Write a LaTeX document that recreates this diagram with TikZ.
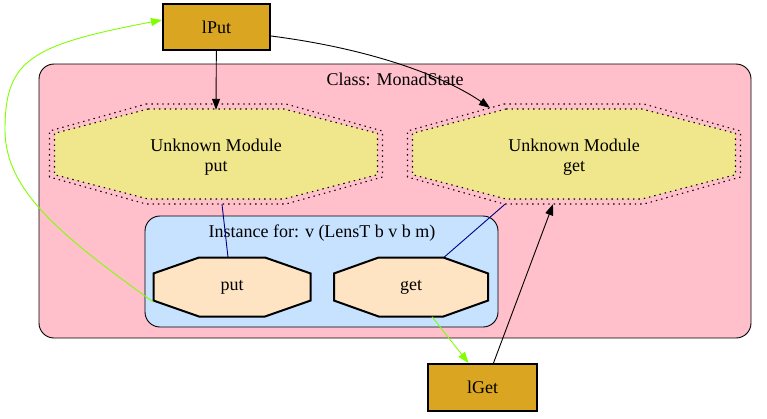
\documentclass[tikz,border=0pt]{standalone}
\usepackage{fontspec}
\setmainfont{Liberation Serif}
\usepackage{xcolor}
\usepackage{tikz}
\usetikzlibrary{arrows.meta,calc}

\definecolor{clspink}{HTML}{FFC0CB}
\definecolor{instblue}{HTML}{C6E2FF}
\definecolor{unkhaki}{HTML}{F0E68C}
\definecolor{fnbisque}{HTML}{FFE4C4}
\definecolor{lensgold}{HTML}{DAA520}
\definecolor{chartgreen}{HTML}{7FFF00}
\definecolor{linknavy}{HTML}{000080}

% octagon round a centre: centre, half width, half height
\newcommand{\octo}[3]{($(#1)+(-0.42*#2,-#3)$) -- ($(#1)+(0.42*#2,-#3)$)
  -- ($(#1)+(#2,-0.46*#3)$) -- ($(#1)+(#2,0.46*#3)$)
  -- ($(#1)+(0.42*#2,#3)$) -- ($(#1)+(-0.42*#2,#3)$)
  -- ($(#1)+(-#2,0.46*#3)$) -- ($(#1)+(-#2,-0.46*#3)$) -- cycle}

\begin{document}
\begin{tikzpicture}
[
x=1pt,y=-1pt,
font=\fontsize{18}{20}\selectfont,
cluster/.style 2 args={draw,fill=#1,rounded corners=15pt,line width=0.9pt,minimum width=#2},
lens/.style={draw,fill=lensgold,line width=2pt,inner sep=0pt,minimum width=107pt,minimum height=46pt},
unkfill/.style={fill=unkhaki,draw,line width=1.1pt,dash pattern=on 1.4pt off 4pt},
unkouter/.style={draw,line width=1.1pt,dash pattern=on 1.4pt off 4pt},
fnfill/.style={fill=fnbisque,draw,line width=2pt,line join=miter},
octtext/.style={align=center,inner sep=0pt},
link/.style={line width=0.9pt,-{Triangle[length=11pt,width=8pt]}},
]
\useasboundingbox (0,0) rectangle (767,418);

%clusters
\node[cluster={clspink}{712pt},minimum height=274pt] (classbox) at (395,201) {};
\node (classlbl) at (395,79) {Class: MonadState};
\node[cluster={instblue}{353pt},minimum height=111pt] (instbox) at (321.5,271.5) {};
\node (instlbl) at (322,233) {Instance for: v (LensT b v b m)};

%octagon shapes
\coordinate (cuput) at (216,154);
\coordinate (cuget) at (574,154);
\coordinate (ciput) at (232,287);
\coordinate (ciget) at (411,287);
\path[unkfill] \octo{cuput}{161.5}{45};
\path[unkouter] \octo{cuput}{166.5}{50};
\path[unkfill] \octo{cuget}{161.5}{45};
\path[unkouter] \octo{cuget}{166.5}{50};
\path[fnfill] \octo{ciput}{78.5}{29.5};
\path[fnfill] \octo{ciget}{77}{29.5};

%Place the nodes
\node[octtext,minimum width=333pt,minimum height=100pt] (uput) at ([yshift=-3pt]cuput) {Unknown Module\\put};
\node[octtext,minimum width=333pt,minimum height=100pt] (uget) at ([yshift=-3pt]cuget) {Unknown Module\\get};
\node[octtext,minimum width=157pt,minimum height=59pt] (iput) at (ciput) {put};
\node[octtext,minimum width=154pt,minimum height=59pt] (iget) at (ciget) {get};
\node[lens] (lput) at (216.5,27) {lPut};
\node[lens,minimum width=109pt,minimum height=47pt] (lget) at (482.5,387.5) {lGet};

%connections
\draw[link] (lput) -- ([yshift=-3pt]uput.north);
\draw[link] ([yshift=-9pt]lput.east) .. controls (380,50) and (450,80) .. ([xshift=-84pt,yshift=-1pt]uget.north);
\draw[linknavy,line width=0.9pt] ([xshift=6pt,yshift=3pt]uput.south) -- ([xshift=-4pt]iput.north);
\draw[linknavy,line width=0.9pt] ([xshift=-69pt,yshift=3pt]uget.south) -- ([xshift=33pt]iget.north);
\draw[link,chartgreen] ([yshift=-15pt]iput.west) .. controls (60,235) and (5,190) .. (5,130)
  .. controls (5,60) and (30,45) .. ([yshift=7pt]lput.west);
\draw[link,chartgreen] ([xshift=21pt]iget.south) -- ([xshift=-14pt]lget.north);
\draw[link] ([xshift=11pt]lget.north) -- ([xshift=-21pt,yshift=3pt]uget.south);
\end{tikzpicture}
\end{document}
